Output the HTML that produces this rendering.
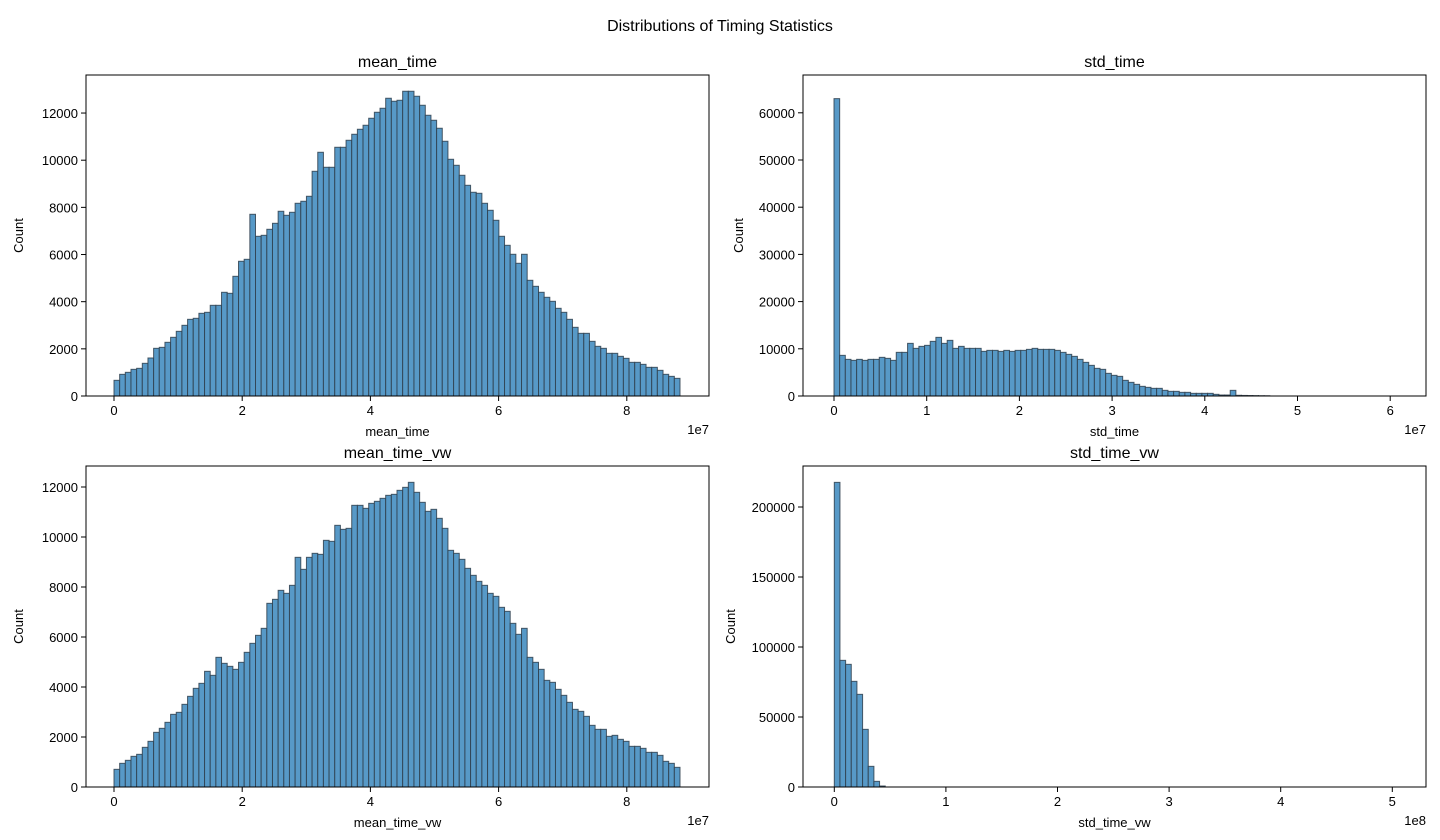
<!DOCTYPE html>
<html><head><meta charset="utf-8">
<style>
html,body{margin:0;padding:0;background:#fff;}
svg{display:block;font-family:"Liberation Sans","DejaVu Sans",sans-serif;}
</style></head>
<body>
<svg id="fig" width="1440" height="840" viewBox="0 0 1440 840" xmlns="http://www.w3.org/2000/svg">
<rect width="1440" height="840" fill="#fff"/>
<text x="720" y="31" font-size="16" text-anchor="middle" fill="#000">Distributions of Timing Statistics</text>
</svg>
<script>
// ---- data (counts per bin) ----
const meanTimeCounts = [665,919,1004,1131,1174,1386,1612,2022,2064,2277,2489,2743,2998,3252,3295,3507,3549,3846,3846,4398,4355,5076,5713,5797,7706,6773,6815,7070,7324,7834,7664,7791,8173,8258,8470,9530,10336,9700,9700,10548,10548,10845,11100,11312,11482,11779,12033,12203,12627,12500,12542,12924,12924,12712,12330,11906,11694,11355,10803,10039,9785,9361,8936,8640,8597,8173,7876,7452,6773,6391,6010,5628,6010,4907,4652,4398,4186,4016,3719,3549,3252,2913,2658,2658,2319,2107,2022,1810,1810,1683,1598,1428,1428,1343,1216,1216,1089,919,834,749];
const stdTimeCounts = [63000,8613,7766,7554,7766,7554,7766,7766,8190,7978,7554,9249,9249,11155,10096,10519,10731,11578,12426,11155,11790,10096,10519,10096,10096,10096,9460,9672,9672,9460,9672,9460,9672,9672,9884,10096,9884,9884,9884,9672,9249,8825,8401,7766,7130,6495,5860,5648,4801,4377,4165,3318,2895,2471,2047,1836,1624,1624,1200,988,988,777,777,565,565,565,565,353,212,212,1200,150,120,100,80,60,50,0,0,0,0,0,0,0,0,0,0,0,0,0,0,0,0,0,0,0,0,0,0,0];
const meanTimeVwCounts = [707,947,1067,1227,1307,1587,1827,2187,2347,2587,2907,2987,3307,3627,3947,4147,4627,4467,5187,4947,4827,4707,4987,5387,5747,6067,6347,7347,7507,7867,7747,8067,9187,8707,9187,9347,9307,9867,9827,10467,10307,10347,11267,11267,11147,11347,11427,11547,11667,11707,11867,11987,12187,11787,11387,11027,11107,10747,10347,9467,9347,9107,8747,8467,8227,8067,7747,7627,7187,7027,6547,6107,6347,5187,4987,4707,4267,4187,3907,3667,3387,3107,3027,2827,2467,2307,2307,2027,2067,1907,1827,1627,1627,1547,1387,1387,1267,1027,947,787];
const stdTimeVwCounts = [217600,90476,87619,75476,66190,41190,14762,4048,714,0,0,0,0,0,0,0,0,0,0,0,0,0,0,0,0,0,0,0,0,0,0,0,0,0,0,0,0,0,0,0,0,0,0,0,0,0,0,0,0,0,0,0,0,0,0,0,0,0,0,0,0,0,0,0,0,0,0,0,0,0,0,0,0,0,0,0,0,0,0,0,0,0,0,0,0,0,0,0,0,0,0,0,0,0,0,0,0,0,0,0];
// bin ranges (data units)
const meanTimeRange = [0, 8.83e7];
const stdTimeRange = [0, 6.106e7];
const meanTimeVwRange = [0, 8.83e7];
const stdTimeVwRange = [0, 5.07e8];
// tick values
const meanXTicks = [0,2e7,4e7,6e7,8e7];
const meanXTickLabels = ['0','2','4','6','8'];
const meanYTicks = [0,2000,4000,6000,8000,10000,12000];
const stdXTicks = [0,1e7,2e7,3e7,4e7,5e7,6e7];
const stdXTickLabels = ['0','1','2','3','4','5','6'];
const stdYTicks = [0,10000,20000,30000,40000,50000,60000];
const stdVwXTicks = [0,1e8,2e8,3e8,4e8,5e8];
const stdVwXTickLabels = ['0','1','2','3','4','5'];
const stdVwYTicks = [0,50000,100000,150000,200000];

const NS = 'http://www.w3.org/2000/svg';
const fig = document.getElementById('fig');
function mk(tag, attrs, parent){
  const e = document.createElementNS(NS, tag);
  for (const k in attrs) e.setAttribute(k, attrs[k]);
  (parent||fig).appendChild(e);
  return e;
}
function panel(cfg, counts, range, xTicks, xLabels, yTicks){
  const g = mk('g', {});
  
  
  const L=cfg.left,R=cfg.right,T=cfg.top,B=cfg.bottom;
  const xs = v => cfg.x0 + (v - 0) * cfg.pxPerX;
  const ys = v => B - v * cfg.pxPerY;
  const n = counts.length, bw = (range[1]-range[0])/n;
  for (let i=0;i<n;i++){
    if (counts[i] <= 0) continue;
    const x1 = xs(range[0]+i*bw), x2 = xs(range[0]+(i+1)*bw);
    const r = mk('rect', {x:x1, y:ys(counts[i]), width:x2-x1, height:B-ys(counts[i]), fill:'#5799c7', stroke:'#2f3f4d', 'stroke-opacity':0.85, 'stroke-width':1}, g);
    
    
  }
  const frame = mk('rect', {x:L, y:T, width:R-L, height:B-T, fill:'none', stroke:'#000', 'stroke-width':1}, g);
  
  
  xTicks.forEach((v,i)=>{
    const x = xs(v);
    mk('line',{x1:x,x2:x,y1:B,y2:B+5,stroke:'#000','stroke-width':1},g);
    const t = mk('text',{x:x,y:B+19,'font-size':13,'text-anchor':'middle',fill:'#000'},g);
    t.textContent = xLabels[i];
    
    
  });
  yTicks.forEach(v=>{
    const y = ys(v);
    mk('line',{x1:L-5,x2:L,y1:y,y2:y,stroke:'#000','stroke-width':1},g);
    const t = mk('text',{x:L-8,y:y+5,'font-size':13,'text-anchor':'end',fill:'#000'},g);
    t.textContent = String(v);
    
    
  });
  const ti = mk('text',{x:(L+R)/2,y:T-8,'font-size':16,'text-anchor':'middle',fill:'#000'},g);
  ti.textContent = cfg.name;
  
  
  const xl = mk('text',{x:(L+R)/2,y:B+40,'font-size':13,'text-anchor':'middle',fill:'#000'},g);
  xl.textContent = cfg.name;
  
  
  const off = mk('text',{x:R,y:B+38,'font-size':13,'text-anchor':'end',fill:'#000'},g);
  off.textContent = cfg.offset;
  
  
  const yl = mk('text',{x:cfg.ylabX,y:(T+B)/2,'font-size':13,'text-anchor':'middle',fill:'#000',transform:`rotate(-90 ${cfg.ylabX} ${(T+B)/2})`},g);
  yl.textContent = 'Count';
  
  
}
panel({name:'mean_time',left:86,right:709,top:75,bottom:396,x0:114,pxPerX:64.1/1e7,pxPerY:23.58/1000,ylabX:23,offset:'1e7'},
  meanTimeCounts, meanTimeRange, meanXTicks, meanXTickLabels, meanYTicks);
panel({name:'std_time',left:803,right:1426,top:75,bottom:396,x0:834,pxPerX:92.7/1e7,pxPerY:4.72/1000,ylabX:743,offset:'1e7'},
  stdTimeCounts, stdTimeRange, stdXTicks, stdXTickLabels, stdYTicks);
panel({name:'mean_time_vw',left:86,right:709,top:466,bottom:787,x0:114,pxPerX:64.1/1e7,pxPerY:25/1000,ylabX:23,offset:'1e7'},
  meanTimeVwCounts, meanTimeVwRange, meanXTicks, meanXTickLabels, meanYTicks);
panel({name:'std_time_vw',left:803,right:1426,top:466,bottom:787,x0:834.3,pxPerX:111.6/1e8,pxPerY:1.4/1000,ylabX:735,offset:'1e8'},
  stdTimeVwCounts, stdTimeVwRange, stdVwXTicks, stdVwXTickLabels, stdVwYTicks);
</script>
</body></html>
